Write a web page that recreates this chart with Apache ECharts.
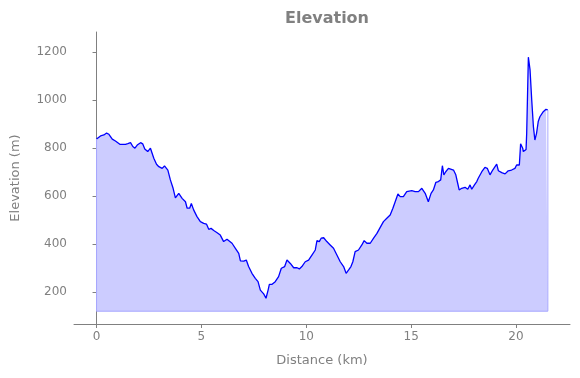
<!DOCTYPE html>
<html>
<head>
<meta charset="utf-8">
<script src="https://cdn.jsdelivr.net/npm/echarts@6/dist/echarts.min.js"></script>
<style>
  html, body { margin: 0; padding: 0; background: #fff; }
  #chart { width: 580px; height: 378px; }
</style>
</head>
<body>
<div id="chart"></div>
<script>
// distance along the track (km) and elevation (m)
const distance = [
  0.0, 0.19, 0.35, 0.48, 0.59, 0.75, 0.9, 1.11, 1.38, 1.49, 1.62, 1.73, 1.83, 1.94, 2.1, 2.2, 2.3, 2.44, 2.57, 2.65,
  2.73, 2.86, 2.97, 3.05, 3.13, 3.24, 3.33, 3.4, 3.52, 3.65, 3.76, 3.92, 4.08, 4.24, 4.32, 4.44, 4.52, 4.63, 4.79, 4.95,
  5.11, 5.24, 5.35, 5.46, 5.59, 5.75, 5.9, 6.06, 6.22, 6.3, 6.46, 6.62, 6.78, 6.86, 7.02, 7.14, 7.25, 7.41, 7.57, 7.7,
  7.81, 7.97, 8.08, 8.18, 8.24, 8.37, 8.52, 8.68, 8.81, 8.97, 9.08, 9.24, 9.4, 9.56, 9.67, 9.79, 9.95, 10.11, 10.27, 10.43,
  10.51, 10.62, 10.71, 10.83, 10.98, 11.14, 11.3, 11.46, 11.62, 11.78, 11.9, 12.02, 12.13, 12.22, 12.33, 12.49, 12.65, 12.76, 12.89, 13.05,
  13.21, 13.37, 13.52, 13.68, 13.84, 14.0, 14.13, 14.24, 14.37, 14.48, 14.63, 14.79, 15.03, 15.19, 15.35, 15.51, 15.67, 15.82, 15.95, 16.06,
  16.18, 16.3, 16.41, 16.49, 16.56, 16.65, 16.78, 16.86, 17.02, 17.13, 17.22, 17.29, 17.41, 17.57, 17.7, 17.81, 17.89, 18.02, 18.13, 18.2,
  18.37, 18.52, 18.63, 18.76, 18.89, 19.08, 19.16, 19.32, 19.48, 19.63, 19.79, 19.95, 20.03, 20.16, 20.22, 20.32, 20.35, 20.48, 20.51, 20.59,
  20.67, 20.75, 20.83, 20.9, 20.98, 21.06, 21.14, 21.3, 21.43, 21.52
]
const elevation = [
  837, 850, 854, 862, 857, 837, 829, 815, 815, 818, 822, 806, 799, 812, 822, 817, 796, 785, 799, 799,
  757, 732, 722, 729, 715, 725, 729, 708, 667, 632, 592, 611, 590, 576, 549, 549, 569, 542, 514, 493,
  486, 483, 461, 465, 456, 447, 437, 410, 420, 424, 403, 382, 361, 330, 329, 333, 306, 278, 257, 243,
  208, 192, 174, 208, 232, 232, 243, 264, 299, 306, 333, 319, 301, 301, 296, 306, 326, 333, 354, 375,
  414, 410, 424, 426, 410, 396, 382, 354, 326, 306, 278, 292, 306, 326, 368, 375, 396, 414, 403, 403,
  424, 444, 468, 493, 507, 521, 549, 576, 608, 597, 597, 618, 622, 618, 618, 632, 611, 576, 611, 625,
  657, 660, 667, 726, 688, 701, 715, 722, 708, 688, 653, 625, 632, 636, 628, 646, 628, 646, 660, 674,
  701, 719, 715, 688, 708, 733, 705, 697, 692, 705, 708, 715, 729, 729, 817, 799, 785, 794, 861, 1178,
  1125, 1000, 889, 833, 861, 910, 930, 951, 961, 958
]
const baseElevation = 120
const xTicks = [0, 5, 10, 15, 20]
const yTicks = [200, 400, 600, 800, 1000, 1200]

const grey = '#808080'
const font = 'DejaVu Sans'

const profile = distance.map((d, i) => [d, elevation[i]])
const last = distance.length - 1
const outline = [
  [distance[0], elevation[0]],
  [distance[0], baseElevation],
  [distance[last], baseElevation],
  [distance[last], elevation[last]]
]

const chart = echarts.init(document.getElementById('chart'))

chart.setOption({
  animation: false,
  title: {
    text: 'Elevation',
    left: 322,
    textAlign: 'center',
    top: 6,
    textStyle: { color: grey, fontFamily: font, fontSize: 16, fontWeight: 'bold' }
  },
  grid: { left: 74, right: 10, top: 32, bottom: 54 },
  xAxis: {
    type: 'value',
    min: -1.075,
    max: 22.575,
    name: 'Distance (km)',
    nameLocation: 'middle',
    nameGap: 30,
    nameTextStyle: { color: grey, fontFamily: font, fontSize: 13 },
    axisLine: { show: true, lineStyle: { color: grey, width: 1 } },
    axisTick: { show: true, customValues: xTicks, length: 4, lineStyle: { color: grey } },
    axisLabel: { customValues: xTicks, color: grey, fontFamily: font, fontSize: 12, margin: 7, formatter: v => String(v) },
    splitLine: { show: false }
  },
  yAxis: {
    type: 'value',
    min: 66.7,
    max: 1283,
    name: 'Elevation (m)',
    nameLocation: 'middle',
    nameGap: 52,
    nameTextStyle: { color: grey, fontFamily: font, fontSize: 13 },
    axisLine: { show: true, lineStyle: { color: grey, width: 1 } },
    axisTick: { show: true, customValues: yTicks, length: 4, lineStyle: { color: grey } },
    axisLabel: { customValues: yTicks, color: grey, fontFamily: font, fontSize: 12, margin: 7, formatter: v => String(v) },
    splitLine: { show: false }
  },
  series: [
    {
      name: 'Elevation',
      type: 'line',
      data: profile,
      showSymbol: false,
      lineStyle: { color: '#0000ff', width: 1.3 },
      areaStyle: { color: '#ccccff', opacity: 1, origin: baseElevation },
      z: 3
    },
    {
      name: 'edge',
      type: 'line',
      data: outline,
      showSymbol: false,
      silent: true,
      lineStyle: { color: '#a8a8ff', width: 1 },
      z: 4
    }
  ]
})
</script>
</body>
</html>
